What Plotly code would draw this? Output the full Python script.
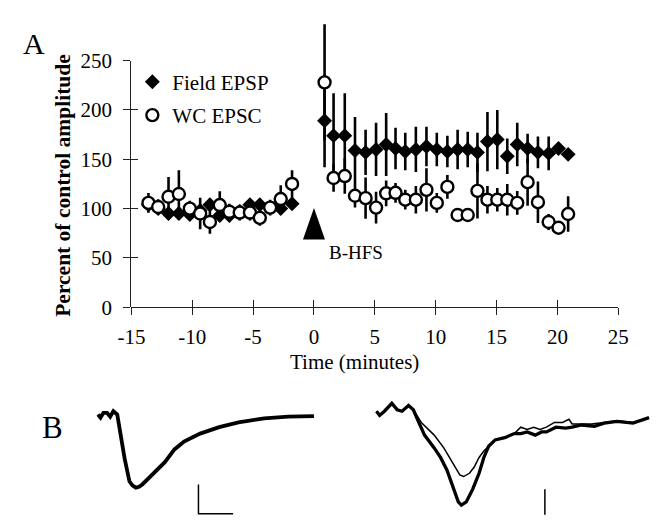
import plotly.graph_objects as go

# ---------------- Panel A data ----------------
time_min = [-13.6, -12.8, -11.95, -11.1, -10.2, -9.35, -8.55, -7.74, -6.95, -6.1,
            -5.26, -4.45, -3.6, -2.73, -1.8,
            0.87, 1.61, 2.53, 3.37, 4.24, 5.1, 5.93, 6.7, 7.5, 8.37, 9.24, 10.09,
            10.96, 11.8, 12.63, 13.43, 14.25, 15.06, 15.88, 16.7, 17.55, 18.4,
            19.28, 20.09, 20.88]
field_epsp = [104, 100, 95, 95, 94, 98, 104, 93, 93, 97, 104, 104, 101, 100, 105,
              189, 174, 174, 159, 157, 160, 165, 161, 158, 160, 163, 160, 158, 160,
              160, 157, 168, 170, 153, 165, 161, 157, 156, 161, 155]
field_err = [6, 5, 6, 6, 5, 6, 6, 6, 6, 5, 6, 6, 5, 6, 5,
             47, 43, 43, 34, 23, 27, 32, 21, 19, 23, 20, 17, 16, 20, 18, 20, 30, 30,
             18, 22, 15, 16, 17, 4, 4]
wc_epsc = [105.8, 101.6, 112, 114.8, 100, 95, 86.4, 103.6, 96.8, 96, 96, 90.6, 101,
           109.7, 125,
           228, 131, 133, 113, 110.6, 101, 115.5, 116, 109, 109, 119, 105.8, 122,
           93.5, 93.5, 118, 109, 109, 109, 105.8, 126.8, 106.5, 86.4, 80.6, 94.5]
wc_err = [10, 8, 20, 24, 8, 16, 12, 14, 8, 8, 8, 8, 8, 14, 14,
          59, 14, 18, 12, 21, 16, 13, 10, 10, 14, 22, 10, 12, 0, 0, 28, 14, 12, 16,
          12, 24, 21, 8, 0, 18]
x_ticks = [-15, -10, -5, 0, 5, 10, 15, 20, 25]
y_ticks = [0, 50, 100, 150, 200, 250]
hfs_time = 0.0
hfs_base = 68.7

# ---------------- Panel B data (ms, arbitrary amplitude units) ----------------
left_ms = [0.0, 0.37, 0.79, 1.31, 1.76, 2.22, 2.78, 3.15, 3.85, 4.54, 4.96, 5.47,
           5.93, 6.4, 7.79, 9.65, 11.04, 12.42, 14.74, 17.5, 20.28, 23.99, 27.46, 31.17]
left_amp = [-0.07, -0.4, 0.1, 0.1, -0.3, 0.27, -0.07, -1.7, -4.7, -7.07, -7.5, -7.73,
            -7.65, -7.4, -6.4, -5.07, -3.73, -2.9, -2.07, -1.4, -0.9, -0.47, -0.3, -0.23]

thick_ms = [0.0, 0.46, 1.15, 2.22, 3.0, 3.69, 4.63, 5.32, 6.01, 6.94, 8.33, 9.25,
            10.18, 11.11, 11.81, 12.26, 12.96, 13.89, 14.81, 15.5, 16.19, 17.13,
            18.51, 19.9, 20.83, 21.75, 22.92, 23.83, 24.53, 25.92, 27.31, 28.24,
            29.63, 31.47, 32.86, 34.72, 37.03, 39.35]
thick_amp = [0.27, -0.17, 0.27, 1.1, 0.43, 0.27, 0.87, 0.43, -0.73, -2.23, -3.57,
             -4.57, -5.9, -7.9, -9.23, -9.57, -9.23, -7.9, -6.23, -4.57, -3.4, -2.73,
             -2.5, -2.07, -2.07, -1.9, -2.23, -1.9, -1.9, -1.4, -1.5, -1.4, -1.17,
             -1.3, -0.97, -0.8, -0.97, -0.4]
thin_ms = [0.0, 0.46, 1.15, 2.22, 3.0, 3.69, 4.63, 5.32, 6.47, 8.33, 9.72, 11.11,
           12.03, 12.58, 13.42, 14.11, 14.81, 15.5, 16.19, 17.13, 18.51, 19.9, 20.83,
           21.75, 22.68, 23.61, 24.53, 25.69, 26.85, 27.78, 28.24, 29.63, 31.01,
           32.86, 34.72, 37.03, 39.35]
thin_amp = [0.27, -0.17, 0.27, 1.1, 0.43, 0.27, 0.87, 0.43, -0.9, -2.23, -3.57,
            -5.23, -6.4, -6.57, -6.23, -5.57, -4.57, -3.9, -3.4, -2.73, -2.5, -2.07,
            -1.4, -1.63, -1.4, -1.63, -1.4, -0.9, -0.9, -0.57, -1.07, -1.07, -1.07,
            -0.9, -0.73, -0.9, -0.4]

# scale bars (ms, amplitude units)
bar_ms = 5.0
bar_amp = 3.07
left_bar_origin = (14.5, -10.47)
right_bar_origin = (24.31, -10.57)
right_bar_amp = 2.67

W, H = 662, 527
FONT = "Liberation Serif"
PX_PER_UNIT = (309.3 - 51) / 250.0   # vertical pixels per percent


def px_x(p):
    return p / W


def px_y(p):
    return 1 - p / H


y_data_top = (309.3 - 4) / PX_PER_UNIT   # room for error bars above 250

fig = go.Figure()

fig.add_trace(go.Scatter(
    x=time_min, y=field_epsp, mode="markers", name="Field EPSP",
    legendgroup="a",
    marker=dict(symbol="diamond", size=11.5, color="black", line=dict(width=0)),
    error_y=dict(type="data", array=field_err, visible=True, thickness=2.6,
                 width=0, color="black"),
    cliponaxis=False, xaxis="x", yaxis="y"))
fig.add_trace(go.Scatter(
    x=time_min, y=wc_epsc, mode="markers", name="WC EPSC",
    legendgroup="b",
    marker=dict(symbol="circle", size=12, color="white",
                line=dict(width=2.4, color="black")),
    error_y=dict(type="data", array=wc_err, visible=True, thickness=2.6,
                 width=0, color="black"),
    cliponaxis=False, xaxis="x", yaxis="y"))

# Panel B traces
fig.add_trace(go.Scatter(x=left_ms, y=left_amp, mode="lines", showlegend=False,
                         line=dict(color="black", width=3.8), xaxis="x2", yaxis="y2"))
fig.add_trace(go.Scatter(
    x=[left_bar_origin[0], left_bar_origin[0], left_bar_origin[0] + bar_ms],
    y=[left_bar_origin[1] + bar_amp, left_bar_origin[1], left_bar_origin[1]],
    mode="lines", showlegend=False, line=dict(color="black", width=1.5),
    xaxis="x2", yaxis="y2"))
fig.add_trace(go.Scatter(x=thin_ms, y=thin_amp, mode="lines", showlegend=False,
                         line=dict(color="black", width=1.5), xaxis="x3", yaxis="y3"))
fig.add_trace(go.Scatter(x=thick_ms, y=thick_amp, mode="lines", showlegend=False,
                         line=dict(color="black", width=3.3), xaxis="x3", yaxis="y3"))
fig.add_trace(go.Scatter(
    x=[right_bar_origin[0], right_bar_origin[0]],
    y=[right_bar_origin[1], right_bar_origin[1] + right_bar_amp],
    mode="lines", showlegend=False, line=dict(color="black", width=1.5),
    xaxis="x3", yaxis="y3"))

# dummy traces to activate the visible y axis and the overlay tick axes
fig.add_trace(go.Scatter(x=[None], y=[None], xaxis="x", yaxis="y4",
                         showlegend=False))
fig.add_trace(go.Scatter(x=[None], y=[None], xaxis="x5", yaxis="y5",
                         showlegend=False))

tick_common = dict(tickcolor="#222", tickwidth=1.3, ticklen=7)

fig.update_layout(
    width=W, height=H, autosize=False,
    margin=dict(l=0, r=0, t=0, b=0),
    paper_bgcolor="white", plot_bgcolor="rgba(0,0,0,0)",
    font=dict(family=FONT, color="black"),
    # data axes
    xaxis=dict(domain=[px_x(122), px_x(628)], range=[-15, 25], tickmode="array",
               tickvals=x_ticks, ticktext=[str(v) for v in x_ticks],
               ticks="outside", showline=True, linecolor="#222", linewidth=1.3,
               showgrid=False, zeroline=False, anchor="y",
               ticklabelstandoff=3,
               tickfont=dict(family=FONT, size=21, color="black"), **tick_common),
    yaxis=dict(domain=[px_y(309.3), px_y(4)], range=[0, y_data_top],
               visible=False, anchor="x"),
    # visible percent axis (0-250)
    yaxis4=dict(domain=[px_y(309.3), px_y(51)], range=[0, 250], tickmode="array",
                tickvals=y_ticks, ticktext=[str(v) for v in y_ticks],
                ticks="outside", showline=True, linecolor="#222", linewidth=1.3,
                showgrid=False, zeroline=False, anchor="x",
                ticklabelstandoff=7,
                tickfont=dict(family=FONT, size=21, color="black"), **tick_common),
    # overlay axes drawing the inner half of the crossing ticks
    xaxis5=dict(overlaying="x", range=[-15, 25], tickmode="array", tickvals=x_ticks,
                ticks="inside", showticklabels=False, showline=False,
                showgrid=False, zeroline=False, anchor="y5", **tick_common),
    yaxis5=dict(overlaying="y4", range=[0, 250], tickmode="array", tickvals=y_ticks,
                ticks="inside", showticklabels=False, showline=False,
                showgrid=False, zeroline=False, anchor="x", **tick_common),
    # panel B axes (hidden)
    xaxis2=dict(domain=[px_x(80), px_x(320)], range=[-1.01, 32.32], visible=False,
                anchor="y2"),
    yaxis2=dict(domain=[px_y(527), px_y(405)], range=[-10.6, 1.6], visible=False,
                anchor="x2"),
    xaxis3=dict(domain=[px_x(370), px_x(662)], range=[-0.93, 39.63], visible=False,
                anchor="y3"),
    yaxis3=dict(domain=[px_y(527), px_y(405)], range=[-10.6, 1.6], visible=False,
                anchor="x3"),
    showlegend=True,
    legend=dict(x=px_x(123), y=px_y(52), xanchor="left", yanchor="top",
                bgcolor="rgba(0,0,0,0)", font=dict(family=FONT, size=21),
                tracegroupgap=3, itemsizing="trace"),
)

fig.add_shape(type="path", xref="x", yref="y", xsizemode="pixel",
              ysizemode="pixel", xanchor=hfs_time, yanchor=hfs_base,
              path="M -11,0 L 11,0 L 0,31.5 Z", fillcolor="black",
              line=dict(color="black", width=0))

annotations = [
    dict(text="B-HFS", x=hfs_time, y=55.5, xref="x", yref="y", xanchor="left",
         yanchor="middle", xshift=13, showarrow=False,
         font=dict(family=FONT, size=19)),
    dict(text="Time (minutes)", x=px_x(354), y=px_y(367), xref="paper",
         yref="paper", xanchor="center", yanchor="middle", showarrow=False,
         font=dict(family=FONT, size=21)),
    dict(text="<b>Percent of control amplitude</b>", x=px_x(51), y=px_y(182),
         xref="paper", yref="paper", xanchor="center", yanchor="middle",
         textangle=-90, showarrow=False, font=dict(family=FONT, size=21.5)),
    dict(text="A", x=px_x(21), y=px_y(33), xref="paper", yref="paper",
         xanchor="center", yanchor="middle", showarrow=False,
         font=dict(family=FONT, size=30)),
    dict(text="B", x=px_x(39.7), y=px_y(435), xref="paper", yref="paper",
         xanchor="center", yanchor="middle", showarrow=False,
         font=dict(family=FONT, size=31)),
]
fig.update_layout(annotations=annotations)

fig.write_html("out.html")
